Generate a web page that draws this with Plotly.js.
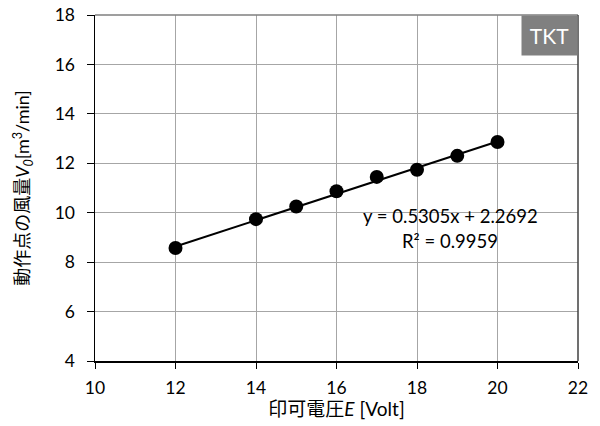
<!DOCTYPE html>
<html>
<head>
<meta charset="utf-8">
<script src="https://cdn.plot.ly/plotly-3.0.1.min.js"></script>
<style>html,body{margin:0;padding:0;background:#fff;}#chart{width:600px;height:426px;}</style>
</head>
<body>
<div id="chart"></div>
<script>
const voltage = [12, 14, 15, 16, 17, 18, 19, 20];
const airflow = [8.57, 9.74, 10.25, 10.87, 11.45, 11.74, 12.30, 12.86];
const fitSlope = 0.5305;
const fitIntercept = 2.2692;
const fitX = [12, 20];
const xTicks = [10, 12, 14, 16, 18, 20, 22];
const yTicks = [4, 6, 8, 10, 12, 14, 16, 18];

const font = "Lato, 'Noto Sans CJK JP', sans-serif";

const traces = [
  {
    x: fitX,
    y: fitX.map(v => fitSlope * v + fitIntercept),
    mode: 'lines',
    line: {color: '#000', width: 2},
    hoverinfo: 'skip',
    showlegend: false
  },
  {
    x: voltage,
    y: airflow,
    mode: 'markers',
    marker: {color: '#000', size: 14},
    showlegend: false
  }
];

const layout = {
  width: 600, height: 426,
  margin: {l: 95, r: 22, t: 15, b: 65},
  paper_bgcolor: '#fff', plot_bgcolor: '#fff',
  font: {family: font, size: 17, color: '#000'},
  showlegend: false,
  xaxis: {
    range: [10, 22], tickvals: xTicks, ticktext: xTicks.map(String),
    showgrid: true, gridcolor: '#A6A6A6', gridwidth: 1,
    showline: true, linecolor: '#000', linewidth: 1.5,
    ticks: 'outside', ticklen: 6, tickcolor: '#000',
    ticklabelstandoff: 4,
    zeroline: false,
    tickfont: {size: 17.5, family: font},
    title: {text: '印可電圧<i>E</i> [Volt]', font: {size: 19, family: font}, standoff: 4}
  },
  yaxis: {
    range: [4, 18], tickvals: yTicks, ticktext: yTicks.map(String),
    showgrid: true, gridcolor: '#A6A6A6', gridwidth: 1,
    showline: true, linecolor: '#000', linewidth: 1.5,
    ticks: 'outside', ticklen: 7, tickcolor: '#000',
    ticklabelstandoff: 8,
    zeroline: false,
    tickfont: {size: 17.5, family: font},
    title: {text: '動作点の風量<i>V<sub>0</sub></i>[m<sup>3</sup>/min]', font: {size: 18, family: font}, standoff: 20}
  },
  shapes: [
    {type: 'line', xref: 'paper', yref: 'paper', x0: 0, x1: 1, y0: 1, y1: 1, line: {color: '#7F7F7F', width: 1.5}},
    {type: 'line', xref: 'paper', yref: 'paper', x0: 1, x1: 1, y0: 0, y1: 1, line: {color: '#404040', width: 1.5}}
  ],
  annotations: [
    {xref: 'paper', yref: 'paper', x: 1, y: 1, xanchor: 'right', yanchor: 'top',
     width: 55, height: 39, borderpad: 0, bgcolor: '#808080',
     text: 'TKT', showarrow: false, font: {size: 21, color: '#fff', family: font}},
    {xref: 'x', yref: 'y', x: 18.82, y: 9.85, text: 'y = 0.5305x + 2.2692', showarrow: false, font: {size: 18.5, family: font}},
    {xref: 'x', yref: 'y', x: 18.82, y: 8.85, text: 'R² = 0.9959', showarrow: false, font: {size: 18.5, family: font}}
  ]
};

Plotly.newPlot('chart', traces, layout, {displayModeBar: false, staticPlot: true});
</script>
</body>
</html>
